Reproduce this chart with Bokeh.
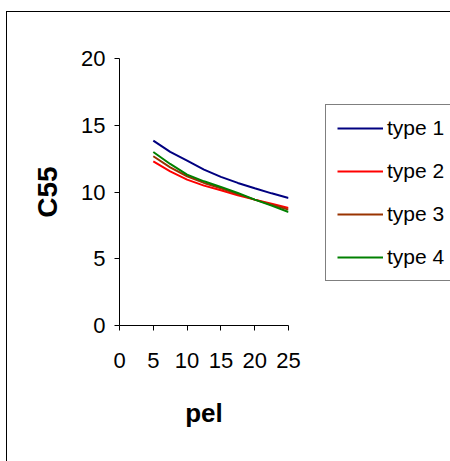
from bokeh.plotting import figure
from bokeh.models import Range1d, Legend, LegendItem, FixedTicker
from bokeh.embed import file_html
from bokeh.resources import INLINE

pel = [5, 7.5, 10, 12.5, 15, 17.5, 20, 22.5, 25]
type1 = [13.85, 13.0, 12.35, 11.68, 11.13, 10.68, 10.28, 9.9, 9.55]
type2 = [12.3, 11.55, 10.93, 10.48, 10.13, 9.75, 9.43, 9.13, 8.8]
type3 = [12.68, 11.85, 11.18, 10.68, 10.28, 9.85, 9.43, 9.05, 8.68]
type4 = [13.0, 12.1, 11.3, 10.8, 10.38, 9.93, 9.43, 8.98, 8.5]
names = ["type 1", "type 2", "type 3", "type 4"]
colors = ["#000080", "#FF0000", "#993300", "#008000"]
x_ticks = [0, 5, 10, 15, 20, 25]
y_ticks = [0, 5, 10, 15, 20]

FONT = "Liberation Sans"

p = figure(
    output_backend="svg", toolbar_location=None,
    frame_width=169, frame_height=267,
    min_border_left=112, min_border_top=46, min_border_bottom=136, min_border_right=162,
    x_range=Range1d(0, 25), y_range=Range1d(0, 20),
    background_fill_color="white", border_fill_color="white",
)
p.styles = {"border-left": "1px solid black", "border-top": "1px solid black",
            "margin-top": "11px", "margin-left": "6px"}
p.outline_line_color = None
p.xgrid.visible = False
p.ygrid.visible = False

for ax, ticks in ((p.xaxis[0], x_ticks), (p.yaxis[0], y_ticks)):
    ax.ticker = FixedTicker(ticks=ticks)
    ax.minor_tick_line_color = None
    ax.major_tick_in = 0
    ax.major_tick_out = 5
    ax.axis_line_color = "black"
    ax.major_tick_line_color = "black"
    ax.major_label_text_font = FONT
    ax.major_label_text_font_size = "22px"
    ax.major_label_text_color = "black"
    ax.axis_label_text_font = FONT
    ax.axis_label_text_font_style = "bold"
    ax.axis_label_text_color = "black"

p.xaxis.axis_label = "pel"
p.yaxis.axis_label = "C55"
p.xaxis.axis_label_text_font_size = "26px"
p.yaxis.axis_label_text_font_size = "28px"
p.xaxis.major_label_standoff = 22
p.xaxis.axis_label_standoff = 27
p.yaxis.major_label_standoff = 9
p.yaxis.axis_label_standoff = 15
p.yaxis.major_label_orientation = "horizontal"

items = []
for name, ys, c in zip(names, [type1, type2, type3, type4], colors):
    r = p.line(pel, ys, line_color=c, line_width=2)
    items.append(LegendItem(label=name, renderers=[r]))

legend = Legend(
    items=items, location=(37, 44),
    padding=11, spacing=19, glyph_width=46, glyph_height=20, label_height=20,
    label_standoff=4, label_text_font=FONT, label_text_font_size="21px",
    label_text_color="black",
    border_line_color="black", border_line_width=1, background_fill_color="white",
    margin=0,
)
p.add_layout(legend, "right")

open("out.html", "w").write(file_html(p, INLINE))
